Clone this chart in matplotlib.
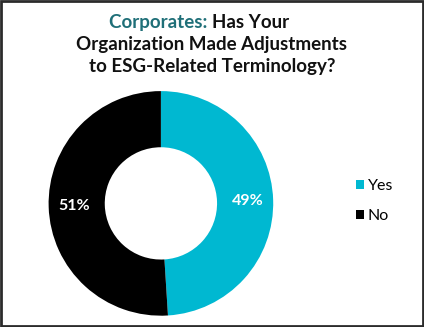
import matplotlib.pyplot as plt
import numpy as np
from matplotlib.patches import Rectangle

# data
labels = ["Yes", "No"]
values = [49, 51]
colors = ["#00B8D1", "#000000"]

fig = plt.figure(figsize=(4.24, 3.27), dpi=100)
fig.patch.set_facecolor("white")

# border around the figure
fig.patches.append(Rectangle((0.002, 0.003), 0.995, 0.993, transform=fig.transFigure,
                             fill=False, edgecolor="#2b2b2b", linewidth=2))

# title, first word in teal
tsize = 13.5
fig.text(0.5, 0.932, "Corporates: ", color="#1F6F78", fontsize=tsize, fontweight="bold",
         family="Lato", ha="right", va="center")
fig.text(0.5, 0.932, "Has Your", color="#111111", fontsize=tsize, fontweight="bold",
         family="Lato", ha="left", va="center")
fig.text(0.5, 0.864, "Organization Made Adjustments", color="#111111", fontsize=tsize,
         fontweight="bold", family="Lato", ha="center", va="center")
fig.text(0.5, 0.796, "to ESG-Related Terminology?", color="#111111", fontsize=tsize,
         fontweight="bold", family="Lato", ha="center", va="center")

ax = fig.add_axes([0.112, 0.031, 0.535, 0.694])
wedges, texts = ax.pie(values, colors=colors, startangle=90, counterclock=False,
                       radius=1, wedgeprops=dict(width=0.5, linewidth=0))
ax.set_xlim(-1.01, 1.01)
ax.set_ylim(-1.01, 1.01)
ax.set_aspect("equal")

# percent labels
for w, v in zip(wedges, values):
    mid = np.deg2rad((w.theta1 + w.theta2) / 2)
    ax.text(0.77 * np.cos(mid), 0.77 * np.sin(mid), f"{v}%", color="white",
            fontsize=11.5, fontweight="bold", family="Lato", ha="center", va="center")

# legend
leg = fig.legend(wedges, labels, loc="center left", bbox_to_anchor=(0.805, 0.385),
                 frameon=False, handlelength=0.5, handleheight=0.5, handletextpad=0.25,
                 labelspacing=1.0, prop=dict(family="Lato", size=11.5))

fig.savefig("out.png", dpi=100)
